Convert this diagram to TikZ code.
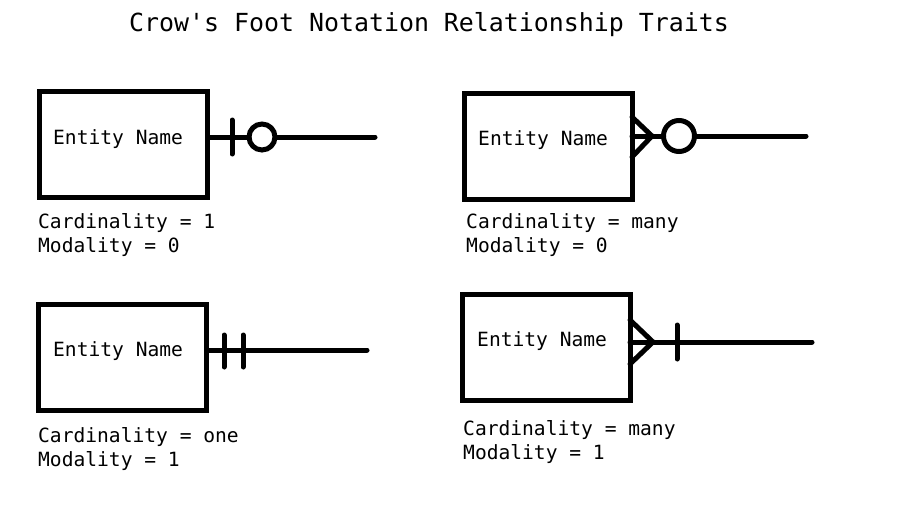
\documentclass[tikz,border=0pt]{standalone}
\usepackage{fontspec}
\setmonofont{DejaVu Sans Mono}
\usepackage{tikz}

\begin{document}
\begin{tikzpicture}[x=1pt, y=-1pt,
    entity/.style={draw, line width=5pt, minimum width=168pt, minimum height=106pt, outer sep=0pt, inner sep=0pt},
    txt/.style={font=\ttfamily\fontsize{19.6}{24}\selectfont, inner sep=0pt, anchor=base west},
    link/.style={line width=5pt, line cap=round, line join=round},
    zero/.style={draw, circle, line width=5pt, inner sep=0pt, outer sep=0pt}]
        \useasboundingbox (0,0) rectangle (900,506);
        \node[txt, font=\ttfamily\fontsize{24.9}{30}\selectfont] (title) at (129,31) {Crow's Foot Notation Relationship Traits};

        % cardinality 1, modality 0
        \node[entity] (e1) at (123.5,144.5) {};
        \node[txt] (n1) at (53,144) {Entity Name};
        \node[txt] (c1) at (38,228) {Cardinality = 1};
        \node[txt] (m1) at (38,252) {Modality = 0};
        \node[zero, minimum size=26pt] (o1) at (262,137) {};
        \coordinate (b1) at (232,137);
        \coordinate (r1) at (375,137);
        \draw[link] (e1.east |- o1) -- (o1.west);
        \draw[link] (o1.east) -- (r1);
        \draw[link] ([yshift=17pt]b1) -- ([yshift=-17pt]b1);

        % cardinality many, modality 0
        \node[entity] (e2) at (548,146) {};
        \node[txt] (n2) at (478,145) {Entity Name};
        \node[txt] (c2) at (466,228) {Cardinality = many};
        \node[txt] (m2) at (466,252) {Modality = 0};
        \node[zero, minimum size=31pt] (o2) at (679,136) {};
        \coordinate (f2) at (652,136);
        \coordinate (r2) at (806,136);
        \draw[link] (e2.east |- o2) -- (o2.west);
        \draw[link] (o2.east) -- (r2);
        \draw[link] ([yshift=19pt]e2.east |- f2) -- (f2) -- ([yshift=-21pt]e2.east |- f2);

        % cardinality one, modality 1
        \node[entity] (e3) at (122.5,357) {};
        \node[txt] (n3) at (53,356) {Entity Name};
        \node[txt] (c3) at (38,442) {Cardinality = one};
        \node[txt] (m3) at (38,466) {Modality = 1};
        \coordinate (b3) at (224,351);
        \coordinate (bb3) at (243,351);
        \coordinate (r3) at (367,350);
        \draw[link] (e3.east |- r3) -- (r3);
        \draw[link] ([yshift=16pt]b3) -- ([yshift=-16pt]b3);
        \draw[link] ([yshift=16pt]bb3) -- ([yshift=-16pt]bb3);

        % cardinality many, modality 1
        \node[entity] (e4) at (546,347) {};
        \node[txt] (n4) at (477,346) {Entity Name};
        \node[txt] (c4) at (463,435) {Cardinality = many};
        \node[txt] (m4) at (463,459) {Modality = 1};
        \coordinate (f4) at (653,342);
        \coordinate (b4) at (677,342);
        \coordinate (r4) at (812,342);
        \draw[link] (e4.east |- f4) -- (r4);
        \draw[link] ([yshift=22pt]e4.east |- f4) -- (f4) -- ([yshift=-22pt]e4.east |- f4);
        \draw[link] ([yshift=17pt]b4) -- ([yshift=-17pt]b4);
      \end{tikzpicture}
\end{document}
